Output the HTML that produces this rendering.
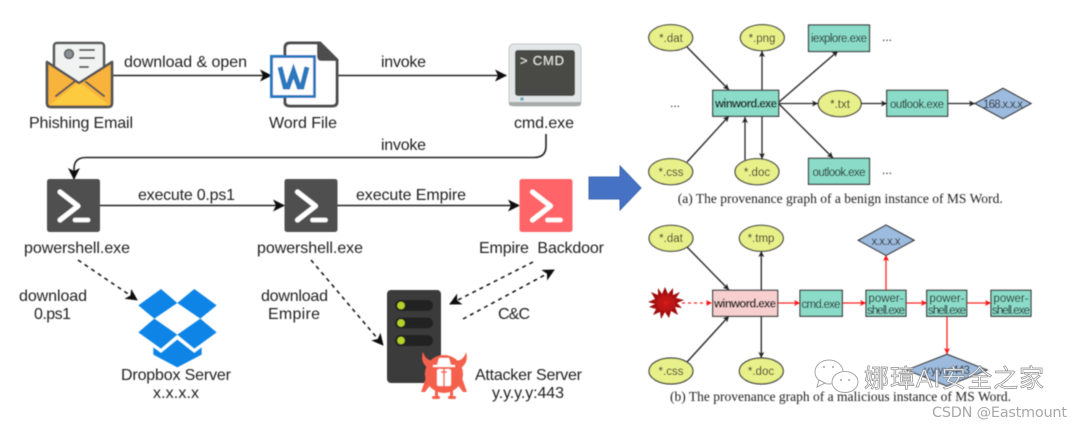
<!DOCTYPE html>
<html><head><meta charset="utf-8">
<style>
html,body{margin:0;padding:0;background:#fff;width:1080px;height:426px;overflow:hidden}
svg{display:block}
.l{font-family:"Liberation Sans",sans-serif;font-size:16px;fill:#222}
.s{font-family:"Liberation Sans",sans-serif;font-size:11.5px;fill:#222;text-anchor:middle}
.c{font-family:"Liberation Serif",serif;font-size:13.5px;fill:#222}
.n{fill:#8adbc8;stroke:#333;stroke-width:1.2}
.e{fill:#e8f08a;stroke:#333;stroke-width:1.2}
.d{fill:#9dbbde;stroke:#333;stroke-width:1.2}
.a{stroke:#222;stroke-width:1.3;fill:none;marker-end:url(#sm)}
.r{stroke:#f22;stroke-width:1.3;fill:none;marker-end:url(#rm)}
.k{stroke:#222;stroke-width:1.6;fill:none;marker-end:url(#bm)}
.h{stroke:#111;stroke-width:1.5;fill:none;stroke-dasharray:4 4;marker-end:url(#bm)}
</style></head><body>
<svg width="1080" height="426" viewBox="0 0 1080 426" xmlns="http://www.w3.org/2000/svg">
<defs>
<filter id="lb" filterUnits="userSpaceOnUse" x="0" y="0" width="1080" height="426"><feGaussianBlur stdDeviation="0.4"/></filter>
<filter id="sb" filterUnits="userSpaceOnUse" x="0" y="0" width="1080" height="426"><feGaussianBlur stdDeviation="0.55"/></filter>
<marker id="bm" markerUnits="userSpaceOnUse" markerWidth="14" markerHeight="14" refX="11" refY="6" orient="auto"><path d="M0 0L12 6L0 12L3 6Z" fill="#111"/></marker>
<marker id="sm" markerUnits="userSpaceOnUse" markerWidth="8" markerHeight="8" refX="6" refY="3" orient="auto"><path d="M0 0L6 3L0 6L1.5 3Z" fill="#222"/></marker>
<marker id="rm" markerUnits="userSpaceOnUse" markerWidth="8" markerHeight="8" refX="6" refY="3" orient="auto"><path d="M0 0L6 3L0 6L1.5 3Z" fill="#f11"/></marker>
<radialGradient id="vg"><stop offset="0" stop-color="#d81c1c"/><stop offset="1" stop-color="#8c0808"/></radialGradient>
<g id="ps"><rect width="53" height="53" rx="2.5"/><path d="M13 13L31 27L13 41" fill="none" stroke="#fff" stroke-width="5" stroke-linecap="round" stroke-linejoin="round"/><path d="M28 41H41" stroke="#fff" stroke-width="4.5" stroke-linecap="round"/></g>
</defs>

<g filter="url(#lb)">
<!-- top row connectors -->
<path class="k" d="M113 75.500H271"/>
<path class="k" d="M338 75.500H506"/>
<path class="k" d="M546 134V146Q546 157.500 534 157.500H86Q74 157.500 74 169V179"/>
<path class="k" d="M100 205.500H284"/>
<path class="k" d="M337 205.500H519"/>
<path class="h" d="M78 260L137 300"/>
<path class="h" d="M311 260L383 345"/>
<path class="h" d="M533 262L450 304"/>
<path class="h" d="M463 319L554 270"/>

<!-- envelope -->
<g stroke-linejoin="round">
<rect x="54" y="43" width="50" height="50" rx="3" fill="#f1f3f3" stroke="#555" stroke-width="2.500"/>
<circle cx="69" cy="54" r="4.500" fill="#8a9096" stroke="#555" stroke-width="1.500"/>
<path d="M80 50H94M80 58H94M80 67H88" stroke="#555" stroke-width="2" stroke-linecap="round"/>
<path d="M47 62L79 83L112 62V103Q112 107 108 107H51Q47 107 47 103Z" fill="#f7b33b" stroke="#555" stroke-width="2.500"/>
<path d="M50 105L79 82L109 105Z" fill="#fdcb3f"/>
<path d="M56 96L74 82M104 96L86 82" stroke="#555" stroke-width="2" stroke-linecap="round"/>
<path d="M47 62L79 83L112 62V103Q112 107 108 107H51Q47 107 47 103Z" fill="none" stroke="#555" stroke-width="2.500"/>
</g>
<text class="l" x="29" y="128" textLength="104">Phishing Email</text>
<text class="l" x="124" y="67" textLength="123">download &amp; open</text>

<!-- word -->
<path d="M290 43H320L337 60V102Q337 106 332 106H290Q285 106 285 102V48Q285 43 290 43Z" fill="#fff" stroke="#4d4d4d" stroke-width="3"/>
<path d="M318 43V56Q318 60 322 60H337Z" fill="#4d4d4d" stroke="#4d4d4d" stroke-width="2" stroke-linejoin="round"/>
<rect x="271.500" y="56.500" width="43" height="40" fill="#fff" stroke="#2a78be" stroke-width="3"/>
<path d="M280 67L285 87H288L293.500 71L299 87H302L307 67" fill="none" stroke="#2a78be" stroke-width="5"/>
<text class="l" x="269" y="128" textLength="68">Word File</text>
<text class="l" x="381" y="67" textLength="45">invoke</text>

<!-- cmd -->
<rect x="509" y="44" width="72" height="62" rx="5" fill="#e3e6e6" stroke="#c4c7c7"/>
<path d="M509 102H581V104Q581 106 578 106H512Q509 106 509 104Z" fill="#a8abab"/>
<rect x="515" y="50" width="60" height="46" rx="3" fill="#4a4a44"/>
<circle cx="522" cy="99" r="1.800" fill="#59aac2"/>
<text x="520" y="65" font-family="Liberation Sans,sans-serif" font-size="13" fill="#e8e8e4" textLength="44">&gt; CMD</text>
<text class="l" x="514" y="128" textLength="60">cmd.exe</text>
<text class="l" x="381" y="150" textLength="45">invoke</text>

<!-- powershell -->
<use href="#ps" x="47" y="179" fill="#4f4f4f"/>
<use href="#ps" x="284.500" y="179" fill="#4f4f4f"/>
<use href="#ps" x="519.500" y="179" fill="#ff6568"/>
<text class="l" x="138" y="200" textLength="97">execute 0.ps1</text>
<text class="l" x="356" y="200" textLength="110">execute Empire</text>
<text class="l" x="24" y="253" textLength="106">powershell.exe</text>
<text class="l" x="257" y="253" textLength="106">powershell.exe</text>
<text class="l" x="479" y="253" textLength="125" xml:space="preserve">Empire  Backdoor</text>
<text class="l" x="19" y="301" textLength="68">download</text>
<text class="l" x="34" y="319" textLength="37">0.ps1</text>
<text class="l" x="261" y="301" textLength="67">download</text>
<text class="l" x="268" y="319" textLength="52">Empire</text>
<text class="l" x="498" y="319" textLength="32">C&amp;C</text>

<!-- dropbox -->
<g fill="#0b84e6" transform="translate(0,213) scale(.3333)">
<path d="M415 277L483 228L532 270L463 317Z"/>
<path d="M532 270L583 228L650 277L601 317Z"/>
<path d="M415 358L463 317L532 365L483 407Z"/>
<path d="M532 365L601 317L650 358L583 407Z"/>
<path d="M460 403L483 420L532 380L583 420L605 403V425L532 463L460 425Z"/>
</g>
<text class="l" x="121" y="380" textLength="110">Dropbox Server</text>
<text class="l" x="153" y="398" textLength="46">x.x.x.x</text>

<!-- server -->
<rect x="387" y="290" width="54" height="93" rx="4" fill="#3a3a3a"/>
<rect x="395" y="300" width="38" height="11" rx="5.500" fill="#232323"/>
<rect x="395" y="317.500" width="38" height="11" rx="5.500" fill="#232323"/>
<rect x="395" y="335" width="38" height="11" rx="5.500" fill="#232323"/>
<circle cx="401" cy="305.500" r="3.800" fill="#b5d22c"/>
<circle cx="401" cy="323" r="3.800" fill="#b5d22c"/>
<circle cx="401" cy="340.500" r="3.800" fill="#b5d22c"/>

<!-- devil -->
<g fill="#f4604c">
<circle cx="444" cy="374" r="19"/>
<path d="M423 352Q420 362 428 368L433 361Q425 360 423 352Z"/>
<path d="M466 352Q469 362 461 368L456 361Q464 360 466 352Z"/>
<path d="M426 378L421 392L425 392L431 384Z"/>
<path d="M462 378L467 392L463 392L457 384Z"/>
<rect x="435" y="388" width="3" height="10"/>
<rect x="450" y="388" width="3" height="10"/>
<rect x="432" y="396" width="8" height="3" rx="1.500"/>
<rect x="448" y="396" width="8" height="3" rx="1.500"/>
</g>
<path d="M437 365L439 358H449L451 365H455V367H433V365Z" fill="#fff"/>
<rect x="437" y="369" width="14" height="17" rx="2" fill="#fff"/>
<path d="M444 369V386M441 372H447" stroke="#f4604c" stroke-width="1.500"/>
<text class="l" x="475" y="380" textLength="107">Attacker Server</text>
<text class="l" x="492" y="398" textLength="72">y.y.y.y:443</text>

<!-- big arrow -->
<path d="M589 177H620V166L641 188L620 210V199H589Z" fill="#4472c4" stroke="#3a64ad"/>
</g>

<g filter="url(#sb)">
<!-- graph a -->
<path class="a" d="M687 47L729 90"/>
<path class="a" d="M762 90V51"/>
<path class="a" d="M779 102L838 51"/>
<path class="a" d="M779 103.500H818"/>
<path class="a" d="M861 103.500H887"/>
<path class="a" d="M948 103.500H975"/>
<path class="a" d="M779 104L833 158"/>
<path class="a" d="M687 162L729 116"/>
<path class="a" d="M745 160V117"/>
<path class="a" d="M762 116V159"/>
<ellipse class="e" cx="670.700" cy="37.700" rx="22" ry="13"/>
<ellipse class="e" cx="762.300" cy="37.700" rx="22" ry="13"/>
<rect class="n" x="808.500" y="25" width="61" height="26.500"/>
<rect class="n" x="712.700" y="90.300" width="66" height="26"/>
<ellipse class="e" cx="839.700" cy="103.700" rx="21.500" ry="13"/>
<rect class="n" x="886.700" y="90.300" width="61" height="26"/>
<path class="d" d="M975 103.500L1003 88.300L1031 103.500L1003 118.700Z"/>
<ellipse class="e" cx="670.700" cy="171.700" rx="22" ry="13"/>
<ellipse class="e" cx="757" cy="171.700" rx="22" ry="13"/>
<rect class="n" x="808.500" y="158.300" width="61" height="26"/>
<text class="s" x="671" y="42">*.dat</text>
<text class="s" x="762" y="42">*.png</text>
<text class="s" x="839" y="42" textLength="56">iexplore.exe</text>
<text class="s" x="887" y="41" style="font-size:12px">...</text>
<text class="s" x="675" y="107" style="font-size:12px">...</text>
<text class="s" x="746" y="107.500" textLength="62" style="font-weight:bold;font-size:11.5px">winword.exe</text>
<text class="s" x="840" y="108">*.txt</text>
<text class="s" x="917" y="108" textLength="54">outlook.exe</text>
<text class="s" x="1003" y="108" textLength="40">168.x.x.x</text>
<text class="s" x="671" y="176">*.css</text>
<text class="s" x="757" y="176">*.doc</text>
<text class="s" x="839" y="176" textLength="53">outlook.exe</text>
<text class="s" x="887" y="174" style="font-size:12px">...</text>
<text class="c" x="677.700" y="203" textLength="325">(a) The provenance graph of a benign instance of MS Word.</text>

<!-- graph b -->
<path class="a" d="M687 247L729 290"/>
<path class="a" d="M761.300 290V251"/>
<path class="a" d="M687 362L729 316"/>
<path class="a" d="M761.300 316V358"/>
<path class="r" d="M682 303H712" stroke-dasharray="3 3"/>
<path class="r" d="M778 303H800"/>
<path class="r" d="M842 303H866"/>
<path class="r" d="M886 290V255"/>
<path class="r" d="M906 303H927"/>
<path class="r" d="M967 303H991"/>
<path class="r" d="M947 316V354"/>
<ellipse class="e" cx="671" cy="238.300" rx="22" ry="13"/>
<ellipse class="e" cx="761.300" cy="238.300" rx="22" ry="13"/>
<path class="d" d="M858.300 240.300L886 225L914 240.300L886 255.500Z"/>
<rect class="n" x="712.700" y="290.300" width="65" height="26" style="fill:#f8cfcf"/>
<rect class="n" x="800" y="290.300" width="42.300" height="26"/>
<rect class="n" x="866" y="290.300" width="40" height="26"/>
<rect class="n" x="926.700" y="290.300" width="40" height="26"/>
<rect class="n" x="991" y="290.300" width="40" height="26"/>
<path class="d" d="M907 370L947 354.300L987 370L947 386Z"/>
<ellipse class="e" cx="671" cy="371" rx="22" ry="13"/>
<ellipse class="e" cx="761.300" cy="371" rx="22" ry="13"/>
<text class="s" x="671" y="242">*.dat</text>
<text class="s" x="761" y="242">*.tmp</text>
<text class="s" x="886" y="245" textLength="29">x.x.x.x</text>
<text class="s" x="745" y="307.500" textLength="62" style="font-weight:bold;font-size:11.5px">winword.exe</text>
<text class="s" x="821" y="308" textLength="39">cmd.exe</text>
<text class="s" x="886" y="302">power-</text>
<text class="s" x="886" y="314" textLength="38">shell.exe</text>
<text class="s" x="947" y="302">power-</text>
<text class="s" x="947" y="314" textLength="38">shell.exe</text>
<text class="s" x="1011" y="302">power-</text>
<text class="s" x="1011" y="314" textLength="38">shell.exe</text>
<text class="s" x="947" y="374" textLength="46">y.y.y.y:443</text>
<text class="s" x="671" y="375">*.css</text>
<text class="s" x="761" y="375">*.doc</text>
<text class="c" x="670" y="401" textLength="341">(b) The provenance graph of a malicious instance of MS Word.</text>

<!-- virus -->
<path d="M665 287L668 294L673 288L673 295L680 292L676 298L684 300L677 303L682 308L675 307L678 315L671 311L669 318L665 312L661 319L660 312L653 315L656 309L649 307L655 304L648 302L655 299L651 292L658 295L658 288L662 294Z" fill="url(#vg)"/>
</g>

<!-- watermark -->
<g fill="#fff" stroke="#a8a8a8" stroke-width="1">
<ellipse cx="829" cy="372" rx="14" ry="12"/>
<path d="M819 380L817 387L825 383Z"/>
<ellipse cx="845" cy="382" rx="13" ry="10.500"/>
</g>
<g fill="#a8a8a8"><circle cx="824" cy="367" r="1"/><circle cx="833" cy="367" r="1"/><circle cx="841" cy="380" r="1"/><circle cx="849" cy="380" r="1"/></g>
<text x="864" y="387" font-family="Liberation Sans,'Noto Sans CJK SC',sans-serif" font-size="25" fill="#fff" stroke="#8f8f8f" stroke-width=".7" textLength="180" fill-opacity=".75">娜璋AI安全之家</text>
<text x="932" y="417" font-family="DejaVu Sans,sans-serif" font-size="14.500" fill="#a9a9a9" textLength="135">CSDN @Eastmount</text>
</svg>
</body></html>
